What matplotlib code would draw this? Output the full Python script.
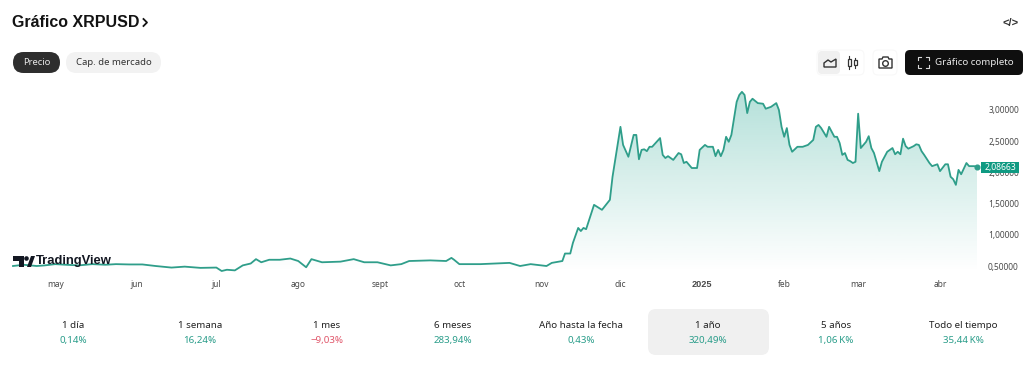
# grafico xrpusd, estilo tradingview
import datetime as dt

import matplotlib
matplotlib.use('Agg')
import matplotlib.dates as mdates
import matplotlib.pyplot as plt
import numpy as np
from matplotlib.colors import LinearSegmentedColormap
from matplotlib.patches import Circle, FancyBboxPatch, Polygon, Rectangle

plt.rcParams['font.family'] = ['Noto Sans', 'DejaVu Sans']

inicio = dt.date(2024, 4, 15)

# dias desde el inicio y precio
dias = [0, 4, 9, 12, 16, 20, 25, 30, 35, 39, 44, 49, 54, 60, 65, 71, 77, 79, 81, 84, 87, 90, 92, 94, 97, 101,
        105, 108, 111, 113, 117, 124, 129, 133, 138, 143, 147, 150, 158, 164, 166, 167, 169, 177, 188, 192, 196,
        202, 204, 208, 209, 211, 212, 214, 215, 216, 217, 220, 223, 226, 227, 230, 231, 233, 235, 236, 237, 238,
        239, 240, 241, 242, 245, 246, 247, 248, 250, 252, 253, 254, 255, 257, 259, 260, 262, 263, 265, 266, 267,
        268, 269, 270, 271, 272, 274, 275, 276, 277, 278, 279, 280, 282, 284, 285, 287, 289, 290, 291, 292, 293,
        294, 295, 297, 299, 301, 303, 304, 305, 306, 308, 309, 311, 312, 313, 314, 315, 316, 317, 318, 319, 320,
        321, 323, 324, 325, 326, 328, 329, 330, 331, 333, 334, 335, 336, 337, 338, 339, 341, 342, 343, 344, 345,
        347, 348, 350, 351, 353, 354, 355, 356, 357, 358, 359, 361, 362, 364, 365]
precios = [0.50, 0.52, 0.50, 0.51, 0.53, 0.52, 0.51, 0.53, 0.52, 0.53, 0.525, 0.525, 0.50, 0.475, 0.49, 0.47, 0.475,
           0.42, 0.44, 0.43, 0.51, 0.54, 0.61, 0.56, 0.60, 0.60, 0.62, 0.58, 0.48, 0.61, 0.56, 0.57, 0.61, 0.56,
           0.56, 0.51, 0.53, 0.58, 0.59, 0.58, 0.63, 0.60, 0.53, 0.53, 0.55, 0.50, 0.53, 0.50, 0.55, 0.58, 0.70,
           0.70, 0.87, 1.11, 1.06, 1.11, 1.09, 1.48, 1.40, 1.56, 1.93, 2.73, 2.44, 2.25, 2.60, 2.60, 2.21, 2.36,
           2.37, 2.34, 2.41, 2.41, 2.55, 2.28, 2.23, 2.26, 2.20, 2.31, 2.29, 2.15, 2.17, 2.07, 2.07, 2.36, 2.44,
           2.41, 2.41, 2.26, 2.36, 2.26, 2.36, 2.57, 2.49, 2.60, 3.13, 3.24, 3.29, 3.24, 2.95, 3.13, 3.18, 3.11,
           3.10, 3.02, 3.05, 3.11, 3.00, 2.73, 2.57, 2.71, 2.44, 2.33, 2.41, 2.41, 2.44, 2.52, 2.73, 2.76, 2.71,
           2.57, 2.73, 2.57, 2.57, 2.47, 2.28, 2.31, 2.20, 2.18, 2.15, 2.17, 2.94, 2.39, 2.49, 2.58, 2.39, 2.31,
           2.02, 2.17, 2.25, 2.33, 2.39, 2.29, 2.33, 2.29, 2.54, 2.42, 2.38, 2.42, 2.45, 2.44, 2.34, 2.28, 2.15,
           2.10, 2.13, 2.02, 2.13, 2.13, 1.93, 1.89, 1.80, 2.04, 1.97, 2.15, 2.10, 2.10, 2.08663]

meses = [(2024, 5), (2024, 6), (2024, 7), (2024, 8), (2024, 9), (2024, 10), (2024, 11), (2024, 12),
         (2025, 1), (2025, 2), (2025, 3), (2025, 4)]
etiquetas_meses = ['may', 'jun', 'jul', 'ago', 'sept', 'oct', 'nov', 'dic', '2025', 'feb', 'mar', 'abr']
ticks_precio = [0.5, 1.0, 1.5, 2.0, 2.5, 3.0]
etiquetas_precio = ['0,50000', '1,00000', '1,50000', '2,00000', '2,50000', '3,00000']

periodos = ['1 día', '1 semana', '1 mes', '6 meses', 'Año hasta la fecha', '1 año', '5 años', 'Todo el tiempo']
cambios = ['0,14%', '16,24%', '−9,03%', '283,94%', '0,43%', '320,49%', '1,06\u2009K%', '35,44\u2009K%']
negativos = [False, False, True, False, False, False, False, False]

VERDE = '#2f9e8a'
VERDE_TXT = '#2a9d8a'
ROJO = '#e0566a'
NEGRITA = ['Liberation Sans', 'DejaVu Sans']
W, H = 1024, 380

fig = plt.figure(figsize=(W / 100, H / 100), dpi=100, facecolor='white')

# grafico de precio
ax = fig.add_axes([13 / W, (H - 272) / H, 964 / W, 187 / H])
fechas = [inicio + dt.timedelta(days=d) for d in dias]
xs = mdates.date2num(fechas)
x0, x1 = mdates.date2num(inicio), mdates.date2num(inicio + dt.timedelta(days=365))
ax.set_xlim(x0, x1)
ax.set_ylim(0.404, 3.40)

# degradado bajo la linea
cmap = LinearSegmentedColormap.from_list('area', [(0.03, 0.6, 0.51, 0.30), (0.03, 0.6, 0.51, 0.0)])
grad = np.linspace(0, 1, 256).reshape(-1, 1)
img = ax.imshow(grad, cmap=cmap, aspect='auto', extent=[x0, x1, 0.404, 3.30], origin='upper', zorder=1)
area = ax.fill_between(xs, precios, 0.404, color='none')
img.set_clip_path(area.get_paths()[0], transform=ax.transData)

ax.plot(xs, precios, color=VERDE, lw=1.3, solid_joinstyle='round', zorder=3, clip_on=False)
ax.plot(xs[-1], precios[-1], 'o', color=VERDE, ms=3.4, zorder=4, clip_on=False)

for s in ax.spines.values():
    s.set_visible(False)
ax.set_xticks([mdates.date2num(dt.date(a, m, 1)) for a, m in meses])
ax.set_xticklabels(etiquetas_meses, fontsize=6, color='#4a4a4a')
for etiqueta in ax.get_xticklabels():
    if etiqueta.get_text() == '2025':
        etiqueta.set_family(NEGRITA)
        etiqueta.set_fontweight('bold')
        etiqueta.set_fontsize(6.6)
ax.tick_params(axis='x', length=0, pad=6)
ax.yaxis.tick_right()
ax.set_yticks(ticks_precio)
ax.set_yticklabels(etiquetas_precio, fontsize=6, color='#4a4a4a')
ax.tick_params(axis='y', length=0, pad=8)

# capa en pixeles para la interfaz
ui = fig.add_axes([0, 0, 1, 1], zorder=5)
ui.set_xlim(0, W)
ui.set_ylim(H, 0)
ui.axis('off')
ui.patch.set_alpha(0)


def caja(x, y, w, h, r, **kw):
    p = FancyBboxPatch((x + r, y + r), w - 2 * r, h - 2 * r, boxstyle=f'round,pad={r},rounding_size={r}', lw=kw.pop('lw', 0), **kw)
    ui.add_patch(p)


ui.text(12, 22.5, 'Gráfico XRPUSD', fontsize=11.5, fontweight='bold', family=NEGRITA, color='#131313', va='center')
ui.plot([143.5, 147, 143.5], [19, 22.5, 26], color='#131313', lw=1.3)

# pestañas
caja(13, 52, 47, 21, 10.5, fc='#2e2e2e')
ui.text(36.5, 62.5, 'Precio', fontsize=6.8, color='#e8e8e8', ha='center', va='center')
caja(66, 52, 95, 21, 10.5, fc='#f2f2f2')
ui.text(113.5, 62.5, 'Cap. de mercado', fontsize=6.9, color='#333333', ha='center', va='center')

# iconos derecha
ui.text(1011, 22.5, '</>', fontsize=8, fontweight='bold', family=NEGRITA, color='#333333', ha='center', va='center')
caja(817, 50, 47, 25, 5, fc='white', ec='#f8f8f8', lw=0.8)
caja(818, 51, 22, 23, 4, fc='#f0f0f0')
ui.add_patch(Polygon([(824, 67), (824, 63), (828, 60), (831, 62), (836, 59), (836, 67)], closed=True, fc='none', ec='#333333', lw=1))
for xc, y0, y1, yb0, yb1 in [(849, 56, 69, 59, 66), (855, 58, 68, 60, 65)]:
    ui.plot([xc, xc], [y0, y1], color='#333333', lw=0.8)
    ui.add_patch(Rectangle((xc - 1.5, yb0), 3, yb1 - yb0, fc='white', ec='#333333', lw=0.9, zorder=3))
caja(873, 50, 24, 25, 5, fc='white', ec='#f8f8f8', lw=0.8)
ui.add_patch(Polygon([(879, 59), (882, 59), (883, 57), (888, 57), (889, 59), (892, 59), (892, 68), (879, 68)], closed=True, fc='none', ec='#333333', lw=1))
ui.add_patch(Circle((885.5, 63.5), 2.8, fc='none', ec='#333333', lw=1))

caja(905, 50, 118, 25, 5, fc='#0f0f0f')
for cx, cy, dx, dy in [(918, 57, 1, 1), (929, 57, -1, 1), (918, 68, 1, -1), (929, 68, -1, -1)]:
    ui.plot([cx, cx, cx + 3 * dx], [cy + 3 * dy, cy, cy], color='#d8d8d8', lw=0.8)
ui.text(974.5, 62.5, 'Gráfico completo', fontsize=7, color='#e8e8e8', ha='center', va='center')

# etiqueta del ultimo precio
ui.add_patch(Rectangle((981, 162), 38, 11, fc='#0f9a82', lw=0))
ui.text(1000, 167.5, '2,08663', fontsize=6.2, color='white', ha='center', va='center')

# logo
ui.add_patch(Polygon([(13, 256), (24, 256), (24, 267), (19, 267), (19, 261), (13, 261)], closed=True, fc='#131722', lw=0))
ui.add_patch(Circle((26.5, 258.5), 2.3, fc='#131722', lw=0))
ui.add_patch(Polygon([(27, 267), (31, 256), (35, 256), (31, 267)], closed=True, fc='#131722', lw=0))
ui.text(36, 261, 'TradingView', fontsize=9.4, fontweight='bold', family=NEGRITA, color='#131722', va='center')

# tabla de rendimiento
caja(648, 309, 121, 46, 8, fc='#f0f0f0')
centros = [73, 200, 327, 453, 581, 708, 836, 963]
for xc, per, cam, neg in zip(centros, periodos, cambios, negativos):
    ui.text(xc, 325, per, fontsize=7, color='#222222', ha='center', va='center')
    ui.text(xc, 340, cam, fontsize=7, color=ROJO if neg else VERDE_TXT, ha='center', va='center')

fig.savefig('out.png', dpi=100, facecolor='white')
